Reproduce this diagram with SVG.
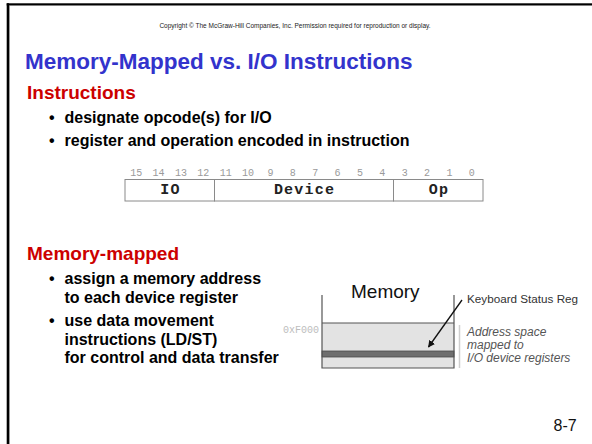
<svg xmlns="http://www.w3.org/2000/svg" width="592" height="444" viewBox="0 0 592 444">
  <defs>
    <marker id="arrowhead" viewBox="0 0 10 10" refX="9" refY="5" markerWidth="7" markerHeight="7" orient="auto" markerUnits="userSpaceOnUse">
      <path d="M0,0 L10,5 L0,10 z" fill="#111"/>
    </marker>
    <style>
      .sans { font-family: "Liberation Sans", Arial, sans-serif; }
      .title { font: bold 22.5px "Liberation Sans", Arial, sans-serif; fill: #3333cc; }
      .head { font: bold 19px "Liberation Sans", Arial, sans-serif; fill: #cc0000; }
      .bullet { font: bold 16px "Liberation Sans", Arial, sans-serif; fill: #000; }
      .bitnum { font: 10px "Liberation Mono", "Courier New", monospace; fill: #9a9a9a; text-anchor: middle; }
      .field { font: bold 15px "Liberation Mono", "Courier New", monospace; fill: #222; text-anchor: middle; letter-spacing: 1.2px; }
      .fieldbox { fill: #fff; stroke: #8a8a8a; stroke-width: 1; }
      .memline { stroke: #555; stroke-width: 1.2; fill: none; }
      .note { font: italic 12px "Liberation Sans", Arial, sans-serif; fill: #555; }
    </style>
  </defs>

  <rect width="592" height="444" fill="#fff"/>

  <!-- slide frame -->
  <rect x="6.7" y="3.3" width="2.3" height="441" fill="#000"/>
  <rect x="9" y="5.5" width="1" height="439" fill="#999"/>
  <rect x="6.7" y="3.3" width="586" height="2.2" fill="#000"/>

  <text class="sans" x="295" y="28" font-size="6.5" fill="#222" text-anchor="middle">Copyright © The McGraw-Hill Companies, Inc.  Permission required for reproduction or display.</text>

  <text class="title" x="25" y="69">Memory-Mapped vs. I/O Instructions</text>

  <!-- I/O instructions section -->
  <g id="instructions-section">
    <text class="head" x="27" y="99">Instructions</text>
    <text class="bullet" x="49" y="123">•</text>
    <text class="bullet" x="64.5" y="123">designate opcode(s) for I/O</text>
    <text class="bullet" x="49" y="146">•</text>
    <text class="bullet" x="64.5" y="146">register and operation encoded in instruction</text>
  </g>

  <!-- instruction format: bits 15..0 -->
  <g id="instruction-format">
    <g id="bit-numbers">
      <text class="bitnum" x="136.2" y="176">15</text>
      <text class="bitnum" x="158.6" y="176">14</text>
      <text class="bitnum" x="181" y="176">13</text>
      <text class="bitnum" x="203.3" y="176">12</text>
      <text class="bitnum" x="225.7" y="176">11</text>
      <text class="bitnum" x="248.1" y="176">10</text>
      <text class="bitnum" x="270.4" y="176">9</text>
      <text class="bitnum" x="292.8" y="176">8</text>
      <text class="bitnum" x="315.2" y="176">7</text>
      <text class="bitnum" x="337.6" y="176">6</text>
      <text class="bitnum" x="359.9" y="176">5</text>
      <text class="bitnum" x="382.3" y="176">4</text>
      <text class="bitnum" x="404.7" y="176">3</text>
      <text class="bitnum" x="427" y="176">2</text>
      <text class="bitnum" x="449.4" y="176">1</text>
      <text class="bitnum" x="471.8" y="176">0</text>
    </g>
    <g id="field-io">
      <rect class="fieldbox" x="125" y="179.5" width="89.5" height="21.5"/>
      <text class="field" x="170.5" y="194">IO</text>
    </g>
    <g id="field-device">
      <rect class="fieldbox" x="214.5" y="179.5" width="179" height="21.5"/>
      <text class="field" x="304.5" y="194">Device</text>
    </g>
    <g id="field-op">
      <rect class="fieldbox" x="393.5" y="179.5" width="89.5" height="21.5"/>
      <text class="field" x="439" y="194">Op</text>
    </g>
  </g>

  <!-- memory-mapped section -->
  <g id="memory-mapped-section">
    <text class="head" x="27" y="260">Memory-mapped</text>
    <text class="bullet" x="49" y="284">•</text>
    <text class="bullet" x="64.5" y="284">assign a memory address</text>
    <text class="bullet" x="64.5" y="303">to each device register</text>
    <text class="bullet" x="49" y="326">•</text>
    <text class="bullet" x="64.5" y="326">use data movement</text>
    <text class="bullet" x="64.5" y="345">instructions (LD/ST)</text>
    <text class="bullet" x="64.5" y="363">for control and data transfer</text>
  </g>

  <!-- memory map figure -->
  <g id="memory-map">
    <rect x="322" y="323" width="132" height="45" fill="#e3e3e3"/>
    <rect x="322" y="351" width="132" height="6" fill="#6e6e6e" stroke="#4a4a4a" stroke-width="0.8"/>
    <path class="memline" d="M322,295 V368 H454 V295 M322,323 H454"/>
    <text class="sans" x="351" y="298" font-size="19" fill="#111">Memory</text>
    <text x="283" y="333" font-family="Liberation Mono, Courier New, monospace" font-size="10" fill="#bdbdbd">0xF000</text>
  </g>

  <g id="keyboard-status-label">
    <text class="sans" x="467" y="303" font-size="11.7" fill="#333">Keyboard Status Reg</text>
  </g>

  <g id="io-space-note">
    <line x1="459.5" y1="325" x2="459.5" y2="368" stroke="#cfcfcf" stroke-width="1.5"/>
    <text class="note" x="467" y="336">Address space</text>
    <text class="note" x="467" y="349">mapped to</text>
    <text class="note" x="467" y="362">I/O device registers</text>
  </g>

  <g id="connectors">
    <line x1="462" y1="300" x2="428.5" y2="347" stroke="#111" stroke-width="1.3" marker-end="url(#arrowhead)"/>
  </g>

  <text class="sans" x="553.5" y="431" font-size="16" fill="#111">8-7</text>
</svg>
